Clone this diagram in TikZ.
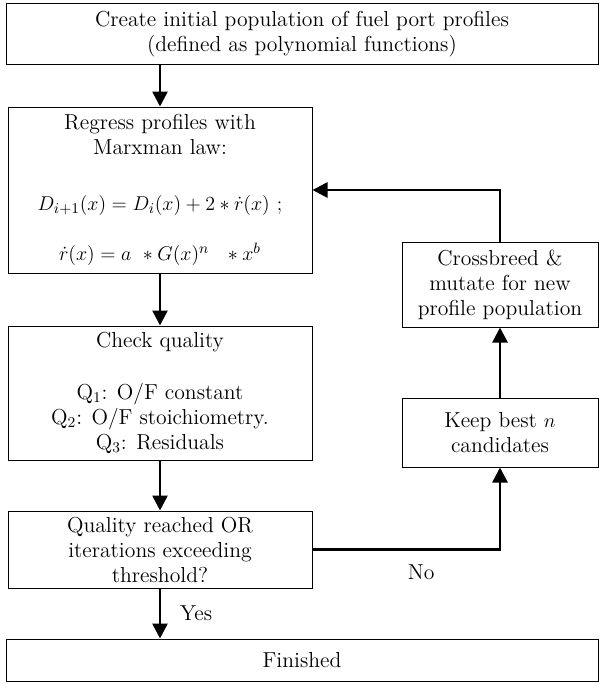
\documentclass[tikz,border=0pt]{standalone}
\usepackage{amsmath}
\usepackage{amssymb}
\usetikzlibrary{arrows.meta}
\tikzset{>={Triangle[length=9pt,width=9pt]}}
\tikzset{
    stepbox/.style={draw,line width=.6pt,align=center,inner sep=0pt,font=\fontsize{13}{15}\selectfont},
    flow/.style={->,line width=1.6pt},
    flowlabel/.style={font=\fontsize{13}{15}\selectfont}
}

\begin{document}
\begin{tikzpicture}[x=0.6pt,y=-0.6pt]
    \useasboundingbox (0,0) rectangle (604,684);

    \node[stepbox,minimum width=355.2pt,minimum height=36.6pt] (init) at (302,34.5) {Create initial population of fuel port profiles\\(defined as polynomial functions)};
    \node[stepbox,minimum width=182.4pt,minimum height=99.6pt] (regress) at (160,190) {Regress profiles with\\Marxman law:\\[19pt]$D_{i+1}(x) = D_i(x) + 2 * \dot{r}(x)\ ;$\\[15pt]$\dot{r}(x) = a\ * G(x)^n\ \ * x^b$};
    \node[stepbox,minimum width=182.4pt,minimum height=80.4pt] (check) at (160,393) {Check quality\\[16pt]Q$_1$: O/F constant\\Q$_2$: O/F stoichiometry.\\Q$_3$: Residuals};
    \node[stepbox,minimum width=182.4pt,minimum height=46.2pt] (quality) at (160,549.5) {Quality reached OR\\iterations exceeding\\threshold?};
    \node[stepbox,minimum width=355.2pt,minimum height=25.2pt] (finish) at (302,660) {Finished};

    \node[stepbox,minimum width=117.6pt,minimum height=51pt] (cross) at (500,284.5) {Crossbreed \&\\mutate for new\\profile population};
    \node[stepbox,minimum width=117.6pt,minimum height=41.4pt] (keep) at (500,432.5) {Keep best $n$\\candidates};

    \draw[flow] (regress.north |- init.south) -- (regress.north);
    \draw[flow] (regress) -- (check);
    \draw[flow] (check) -- (quality);
    \draw[flow] (quality) -- (finish.north -| quality.south) node[midway,right=8pt,flowlabel]{Yes};
    \draw[flow] (quality.east) -| (keep.south) node[pos=0.29,below=5pt,flowlabel]{No};
    \draw[flow] (keep) -- (cross);
    \draw[flow] (cross.north) |- (regress.east);
\end{tikzpicture}
\end{document}
